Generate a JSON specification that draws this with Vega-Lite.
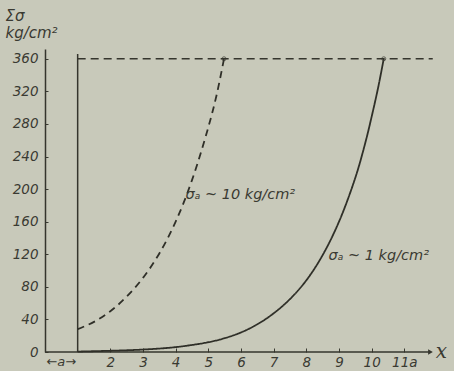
{
  "$schema": "https://vega.github.io/schema/vega-lite/v6.json",
  "width": 392,
  "height": 303,
  "autosize": {"type": "none"},
  "padding": {"left": 45, "top": 49, "right": 17, "bottom": 19},
  "background": "#c8c9ba",
  "config": {"view": {"stroke": null}, "font": "DejaVu Sans"},
  "datasets": {
    "curves": [
      {"series": "s1", "x": 1, "y": 0.5},
      {"series": "s1", "x": 2, "y": 1.5},
      {"series": "s1", "x": 3, "y": 3},
      {"series": "s1", "x": 4, "y": 6},
      {"series": "s1", "x": 5, "y": 12},
      {"series": "s1", "x": 5.5, "y": 17},
      {"series": "s1", "x": 6, "y": 24},
      {"series": "s1", "x": 6.5, "y": 34},
      {"series": "s1", "x": 7, "y": 47.5},
      {"series": "s1", "x": 7.5, "y": 65},
      {"series": "s1", "x": 8, "y": 88},
      {"series": "s1", "x": 8.5, "y": 119},
      {"series": "s1", "x": 9, "y": 160},
      {"series": "s1", "x": 9.5, "y": 214},
      {"series": "s1", "x": 9.8, "y": 256},
      {"series": "s1", "x": 10, "y": 289},
      {"series": "s1", "x": 10.2, "y": 325},
      {"series": "s1", "x": 10.37, "y": 360},
      {"series": "s10", "x": 1.0, "y": 28},
      {"series": "s10", "x": 1.5, "y": 37},
      {"series": "s10", "x": 2, "y": 50},
      {"series": "s10", "x": 2.5, "y": 68},
      {"series": "s10", "x": 3, "y": 91},
      {"series": "s10", "x": 3.5, "y": 121},
      {"series": "s10", "x": 4, "y": 160},
      {"series": "s10", "x": 4.5, "y": 211},
      {"series": "s10", "x": 5, "y": 276},
      {"series": "s10", "x": 5.25, "y": 315},
      {"series": "s10", "x": 5.48, "y": 360}
    ],
    "solidrules": [
      {"x": 1, "x2": 1, "y": 0, "y2": 366},
      {"x": 0, "x2": 11.75, "y": 0, "y2": 0}
    ],
    "dashrules": [
      {"x": 1, "x2": 11.87, "y": 360, "y2": 360}
    ],
    "tops": [
      {"x": 5.48, "y": 360},
      {"x": 10.37, "y": 360}
    ],
    "arrow": [
      {"x": 11.8, "y": 0}
    ],
    "labels": [
      {"x": 4.3, "y": 193, "label": "σₐ ~ 10 kg/cm²"},
      {"x": 8.68, "y": 118, "label": "σₐ ~ 1 kg/cm²"}
    ],
    "alabel": [
      {"x": 0.5, "y": -12, "label": "←a→"}
    ]
  },
  "encoding": {
    "x": {
      "field": "x",
      "type": "quantitative",
      "scale": {"domain": [0, 12], "nice": false, "zero": false},
      "axis": {
        "values": [2, 3, 4, 5, 6, 7, 8, 9, 10, 11],
        "domain": false,
        "grid": false,
        "tickSize": -4,
        "tickColor": "#3a3a32",
        "tickWidth": 1,
        "labelExpr": "datum.value == 11 ? '11a' : datum.label",
        "labelFont": "DejaVu Sans",
        "labelFontStyle": "italic",
        "labelFontSize": 13.5,
        "labelColor": "#3a3a32",
        "labelPadding": 7,
        "title": "x",
        "titleFont": "DejaVu Serif",
        "titleFontStyle": "italic",
        "titleFontWeight": "normal",
        "titleFontSize": 20,
        "titleColor": "#3a3a32",
        "titleX": 396,
        "titleY": -1,
        "titleAlign": "center",
        "titleBaseline": "middle"
      }
    },
    "y": {
      "field": "y",
      "type": "quantitative",
      "scale": {"domain": [0, 372], "nice": false},
      "axis": {
        "values": [0, 40, 80, 120, 160, 200, 240, 280, 320, 360],
        "domain": true,
        "domainColor": "#35352d",
        "domainWidth": 1.5,
        "grid": false,
        "tickSize": -3,
        "tickColor": "#3a3a32",
        "labelFont": "DejaVu Sans",
        "labelFontStyle": "italic",
        "labelFontSize": 13.5,
        "labelColor": "#3a3a32",
        "labelPadding": 10,
        "title": ["Σσ", "kg/cm²"],
        "titleFont": "DejaVu Sans",
        "titleFontStyle": "italic",
        "titleFontWeight": "normal",
        "titleFontSize": 15,
        "titleLineHeight": 17,
        "titleColor": "#3a3a32",
        "titleAngle": 0,
        "titleAlign": "left",
        "titleBaseline": "middle",
        "titleX": -40,
        "titleY": -34
      }
    }
  },
  "layer": [
    {
      "data": {"name": "solidrules"},
      "mark": {"type": "rule", "color": "#35352d", "strokeWidth": 1.5},
      "encoding": {"x2": {"field": "x2"}, "y2": {"field": "y2"}}
    },
    {
      "data": {"name": "dashrules"},
      "mark": {"type": "rule", "color": "#35352d", "strokeWidth": 1.3, "strokeDash": [8, 5]},
      "encoding": {"x2": {"field": "x2"}, "y2": {"field": "y2"}}
    },
    {
      "data": {"name": "curves"},
      "mark": {"type": "line", "color": "#2f2f28", "strokeWidth": 1.8, "interpolate": "catmull-rom"},
      "encoding": {
        "detail": {"field": "series"},
        "strokeDash": {
          "field": "series",
          "type": "nominal",
          "scale": {"domain": ["s1", "s10"], "range": [[1, 0], [7, 5]]},
          "legend": null
        }
      }
    },
    {
      "data": {"name": "tops"},
      "mark": {"type": "point", "shape": "circle", "size": 16, "color": "#35352d", "strokeWidth": 1, "filled": false}
    },
    {
      "data": {"name": "arrow"},
      "mark": {"type": "point", "shape": "triangle-right", "size": 30, "color": "#35352d", "filled": true, "opacity": 1}
    },
    {
      "data": {"name": "labels"},
      "mark": {"type": "text", "align": "left", "baseline": "middle", "fontStyle": "italic", "fontSize": 14.5, "color": "#3a3a32", "font": "DejaVu Sans"},
      "encoding": {"text": {"field": "label"}}
    },
    {
      "data": {"name": "alabel"},
      "mark": {"type": "text", "align": "center", "baseline": "middle", "fontStyle": "italic", "fontSize": 13, "color": "#3a3a32", "font": "DejaVu Sans"},
      "encoding": {"text": {"field": "label"}}
    }
  ]
}
